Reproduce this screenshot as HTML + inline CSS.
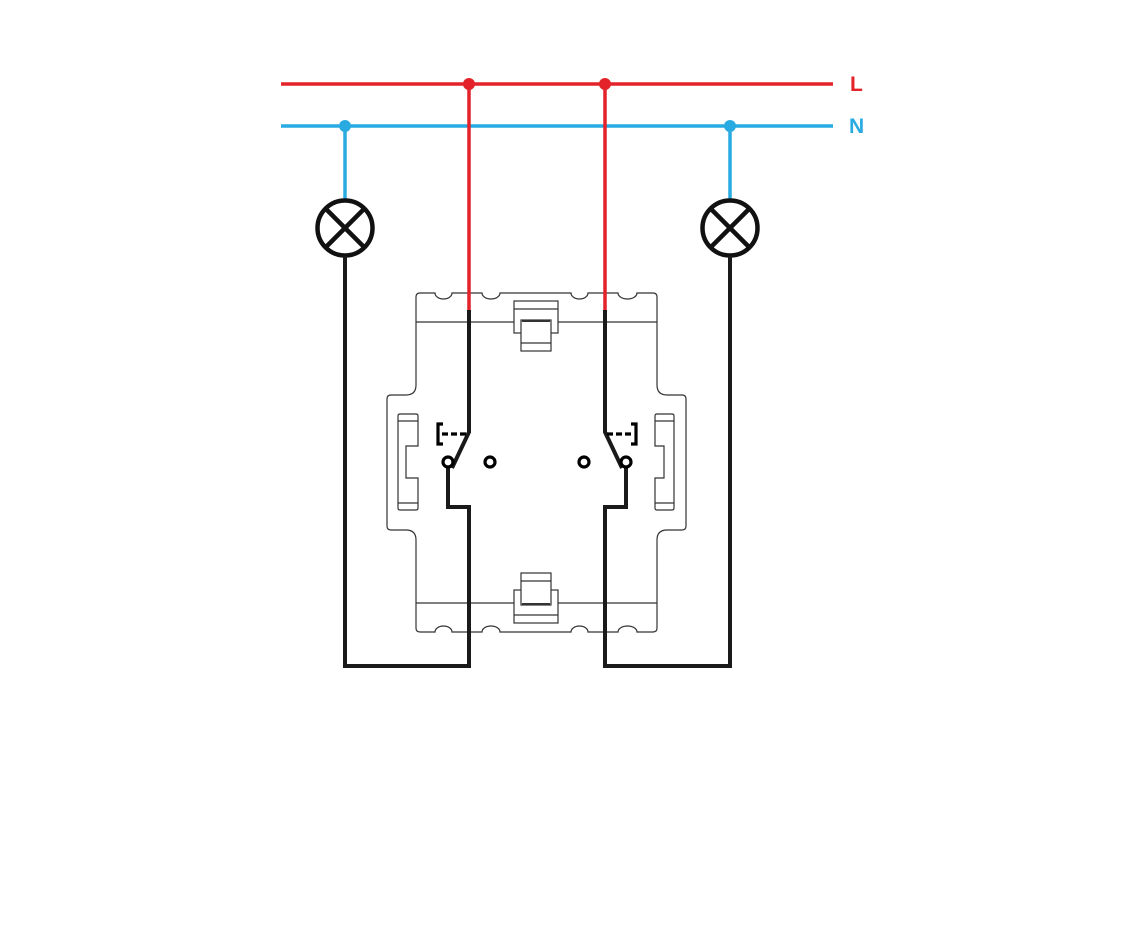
<!DOCTYPE html>
<html><head><meta charset="utf-8"><style>
html,body{margin:0;padding:0;background:#fff;}
svg{display:block;}
</style></head><body>
<svg width="1144" height="925" viewBox="0 0 1144 925" xmlns="http://www.w3.org/2000/svg">
<g fill="none" stroke="#333" stroke-width="1.2">
<path d="M416,297 Q416,293 420,293 L435,293 A8.5,6 0 0 0 452,293 L482,293 A9,6 0 0 0 500,293 L571,293 A8.5,6 0 0 0 588,293 L618,293 A9.5,6 0 0 0 637,293 L653,293 Q657,293 657,297 L657,385 Q657,395 667,395 L682,395 Q686,395 686,399 L686,526 Q686,530 682,530 L667,530 Q657,530 657,540 L657,628 Q657,632 653,632 L637,632 A9.5,6 0 0 0 618,632 L588,632 A8.5,6 0 0 0 571,632 L500,632 A9,6 0 0 0 482,632 L452,632 A8.5,6 0 0 0 435,632 L420,632 Q416,632 416,628 L416,540 Q416,530 406,530 L391,530 Q387,530 387,526 L387,399 Q387,395 391,395 L406,395 Q416,395 416,385 Z"/>
<line x1="416" y1="322" x2="514" y2="322"/><line x1="558" y1="322" x2="657" y2="322"/>
<line x1="416" y1="603" x2="514" y2="603"/><line x1="558" y1="603" x2="657" y2="603"/>
<rect x="514" y="301" width="44" height="32"/><line x1="514" y1="309" x2="558" y2="309"/>
<rect x="521" y="320" width="30" height="31" fill="#fff"/><line x1="521" y1="343" x2="551" y2="343"/>
<line x1="522" y1="321" x2="550" y2="321" stroke-width="2"/>
<rect x="514" y="590" width="44" height="33"/><line x1="514" y1="615" x2="558" y2="615"/>
<rect x="521" y="573" width="30" height="32" fill="#fff"/><line x1="521" y1="581" x2="551" y2="581"/>
<line x1="522" y1="604" x2="550" y2="604" stroke-width="2"/>
<path d="M400,414 L416,414 Q418,414 418,416 L418,446 L406,446 L406,478 L418,478 L418,508 Q418,510 416,510 L400,510 Q398,510 398,508 L398,416 Q398,414 400,414 Z"/>
<line x1="398" y1="421" x2="418" y2="421"/><line x1="398" y1="503" x2="418" y2="503"/>
<path d="M657,414 L672,414 Q674,414 674,416 L674,508 Q674,510 672,510 L657,510 Q655,510 655,508 L655,478 L664,478 L664,446 L655,446 L655,416 Q655,414 657,414 Z"/>
<line x1="655" y1="421" x2="674" y2="421"/><line x1="655" y1="503" x2="674" y2="503"/>
</g>
<line x1="281" y1="126" x2="833" y2="126" stroke="#29abe2" stroke-width="3.5"/>
<line x1="345" y1="126" x2="345" y2="200" stroke="#29abe2" stroke-width="3.5"/>
<line x1="730" y1="126" x2="730" y2="200" stroke="#29abe2" stroke-width="3.5"/>
<circle cx="345" cy="126" r="6" fill="#29abe2"/><circle cx="730" cy="126" r="6" fill="#29abe2"/>
<line x1="281" y1="84" x2="833" y2="84" stroke="#e4222a" stroke-width="3.5"/>
<line x1="469" y1="84" x2="469" y2="310" stroke="#e4222a" stroke-width="3.5"/>
<line x1="605" y1="84" x2="605" y2="310" stroke="#e4222a" stroke-width="3.5"/>
<circle cx="469" cy="84" r="6" fill="#e4222a"/><circle cx="605" cy="84" r="6" fill="#e4222a"/>
<text x="850" y="91" font-family="Liberation Sans, sans-serif" font-weight="bold" font-size="21" fill="#e4222a">L</text>
<text x="849" y="133" font-family="Liberation Sans, sans-serif" font-weight="bold" font-size="21" fill="#29abe2">N</text>
<g fill="none" stroke="#111" stroke-width="4.5">
<circle cx="345" cy="228" r="27.5"/>
<line x1="326" y1="209" x2="364" y2="247"/><line x1="364" y1="209" x2="326" y2="247"/>
<circle cx="730" cy="228" r="27.5"/>
<line x1="711" y1="209" x2="749" y2="247"/><line x1="749" y1="209" x2="711" y2="247"/>
</g>
<g fill="none" stroke="#1a1a1a" stroke-width="4" stroke-linejoin="miter">
<path d="M345,256 L345,666 L469,666 L469,507 L448,507 L448,467"/>
<path d="M730,256 L730,666 L605,666 L605,507 L626,507 L626,467"/>
<path d="M469,310 L469,432 L452,468"/>
<path d="M605,310 L605,432 L622,468"/>
</g>
<g fill="none" stroke="#000" stroke-width="3.2">
<circle cx="448" cy="462" r="5"/><circle cx="490" cy="462" r="5"/>
<circle cx="584" cy="462" r="5"/><circle cx="626" cy="462" r="5"/>
<path d="M443,424 L438,424 L438,444 L443,444"/>
<path d="M631,424 L636,424 L636,444 L631,444"/>
<line x1="442" y1="434" x2="467" y2="434" stroke-dasharray="6,3"/>
<line x1="607" y1="434" x2="632" y2="434" stroke-dasharray="6,3"/>
</g>
</svg>
</body></html>
